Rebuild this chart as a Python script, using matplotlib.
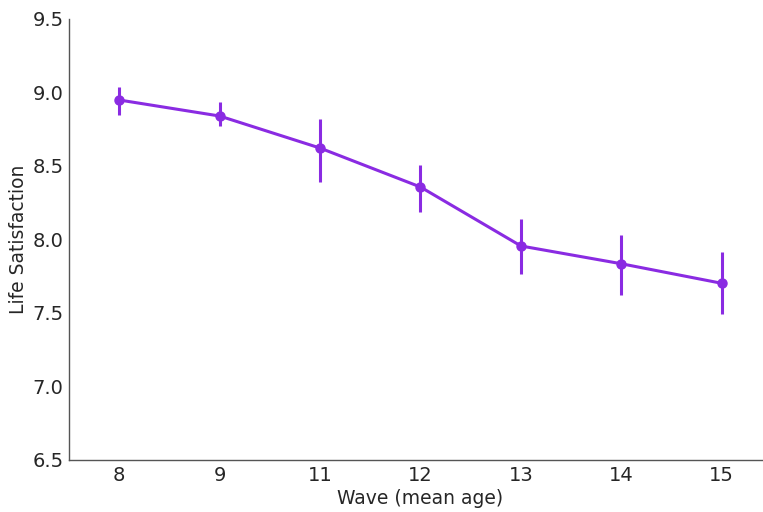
import numpy as np
import matplotlib
matplotlib.use("Agg")
import matplotlib.pyplot as plt

# data
waves = ["8", "9", "11", "12", "13", "14", "15"]
life_sat = [8.949, 8.840, 8.622, 8.357, 7.956, 7.835, 7.702]
ci_low = [8.847, 8.772, 8.393, 8.189, 7.763, 7.622, 7.491]
ci_high = [9.037, 8.933, 8.818, 8.509, 8.139, 8.033, 7.917]

color = "#8A2BE2"
text_color = "#262626"

plt.rcParams["font.family"] = ["DejaVu Sans"]

fig = plt.figure(figsize=(7.63, 5.12), dpi=100)
ax = fig.add_axes([69 / 763, 52 / 512, 703 / 763, 441 / 512])

x = np.arange(len(waves))
y = np.array(life_sat)
yerr = [y - np.array(ci_low), np.array(ci_high) - y]

ax.plot(x, y, color=color, lw=2.2, marker="o", ms=6.5, zorder=3)
ax.errorbar(x, y, yerr=yerr, fmt="none", ecolor=color, elinewidth=2.2, capsize=0, zorder=3)

ax.set_xticks(x)
ax.set_xticklabels(waves)
ax.set_xlim(-0.5, len(waves) - 0.5)
ax.set_ylim(6.5, 9.5)
ticks = np.arange(6.5, 9.51, 0.5)
ax.set_yticks(ticks)
ax.set_yticklabels([f"{v:.1f}" for v in ticks])

ax.set_xlabel("Wave (mean age)", fontsize=13.5, color=text_color, labelpad=3)
ax.set_ylabel("Life Satisfaction", fontsize=13.5, color=text_color, labelpad=3)
ax.tick_params(axis="both", length=0, labelsize=14, labelcolor=text_color, pad=4)

for side in ["top", "right"]:
    ax.spines[side].set_visible(False)
for side in ["left", "bottom"]:
    ax.spines[side].set_color("#555555")
    ax.spines[side].set_linewidth(1.0)

fig.savefig("out.png", dpi=100)
